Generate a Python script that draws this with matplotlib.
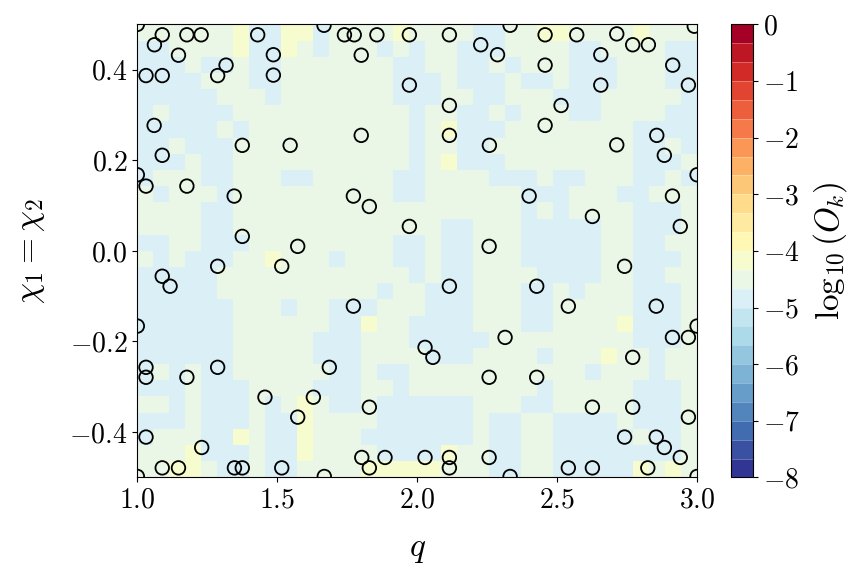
import numpy as np
import matplotlib
matplotlib.use('Agg')
import matplotlib.pyplot as plt
from matplotlib.colors import BoundaryNorm

# LaTeX-like look with the bundled Computer Modern fonts
plt.rcParams['font.family'] = 'serif'
plt.rcParams['font.serif'] = ['cmr10']
plt.rcParams['mathtext.fontset'] = 'cm'
plt.rcParams['axes.formatter.use_mathtext'] = True

# training points (q, chi)
q_pts = [1.0, 1.089, 1.177, 1.228, 1.430, 1.061, 1.147, 1.486, 1.667, 1.740, 1.775, 1.856, 1.972,
         1.800, 1.031, 1.089, 1.287, 1.317, 1.486, 1.972, 1.060, 1.800, 1.375, 1.546, 1.089, 1.0,
         2.115, 2.332, 2.457, 2.570, 2.713, 2.770, 2.826, 2.227, 2.287, 2.656, 2.457, 2.913, 2.99,
         2.656, 2.969, 2.115, 2.514, 2.457, 2.115, 2.258, 2.713, 2.856, 2.883, 3.0,
         1.031, 1.177, 1.346, 1.772, 1.829, 1.972, 1.375, 1.573, 1.287, 1.516, 1.089, 1.117, 1.772, 1.0,
         2.400, 2.912, 2.626, 2.940, 2.257, 2.741, 2.115, 2.427, 2.540, 2.854, 3.0,
         1.031, 1.031, 1.177, 1.287, 1.686, 1.456, 1.629, 1.573, 1.829, 2.028, 2.056, 1.031, 1.230,
         1.089, 1.147, 1.347, 1.375, 1.516, 1.668, 1.0, 1.802, 1.829, 1.885, 2.028,
         2.314, 2.770, 2.912, 2.969, 2.257, 2.427, 2.626, 2.770, 2.969, 2.741, 2.854, 2.883, 2.940,
         2.115, 2.115, 2.257, 2.332, 2.540, 2.626, 2.824, 3.0]
chi_pts = [0.5, 0.477, 0.477, 0.477, 0.477, 0.455, 0.432, 0.433, 0.498, 0.477, 0.477, 0.477, 0.477,
           0.432, 0.387, 0.387, 0.387, 0.410, 0.388, 0.366, 0.277, 0.255, 0.233, 0.233, 0.211, 0.168,
           0.477, 0.498, 0.477, 0.477, 0.479, 0.455, 0.455, 0.455, 0.433, 0.433, 0.410, 0.410, 0.496,
           0.366, 0.366, 0.321, 0.321, 0.277, 0.255, 0.233, 0.234, 0.255, 0.211, 0.168,
           0.143, 0.143, 0.121, 0.121, 0.098, 0.054, 0.032, 0.010, -0.034, -0.034, -0.056, -0.078, -0.122, -0.166,
           0.121, 0.121, 0.076, 0.054, 0.010, -0.034, -0.078, -0.078, -0.122, -0.122, -0.166,
           -0.257, -0.279, -0.279, -0.257, -0.257, -0.323, -0.323, -0.367, -0.345, -0.213, -0.235, -0.411, -0.434,
           -0.479, -0.479, -0.479, -0.479, -0.479, -0.498, -0.498, -0.456, -0.479, -0.456, -0.456,
           -0.191, -0.235, -0.191, -0.191, -0.279, -0.279, -0.345, -0.345, -0.367, -0.411, -0.411, -0.434, -0.456,
           -0.456, -0.479, -0.456, -0.498, -0.479, -0.479, -0.479, -0.498]

# log10(O_k) map, coarse read: top row = chi 0.5, left col = q 1.0
# g ~ -4.5, b ~ -4.8, y ~ -4.2
ok_rows = [
    "ggggggybbyybggggyggggbbggyyggggyggg",
    "bbggggybbygbgggbgbggbbbggggbbggggbb",
    "bbbgbbgbbgggggggbbggbbgbgggbbbgggbb",
    "bbbbgggbbgggggggbbbgbbbgbbgbbbgggbb",
    "bbbbbgggbgggggggbbbggbbgggbbbgggggb",
    "bgbbbbgggggggggggbggbbgbgggbbggggbb",
    "bbbbbgbggggggggggbgybbbggggggggbbbb",
    "bbgbbbgggggggggggbggbbgggggggggbbgb",
    "bbbgbbgggggggggggbgybbbggggggggbbbg",
    "bgggbbgggbbgggggbbggggbbbgbbgggbbgb",
    "gbgggbggggggggggbbggggggbbbgggbbggg",
    "ggggbbggggggggggggggggggbgbggggbbbg",
    "ggggbbgggggggggggggbbgggbbbbbggbbbg",
    "bbggbbbgggggggggbbgbbgggbbbbbggbbgg",
    "gbgbbbggygggbgggbbgbbgggbbbbbggbbbg",
    "bbbbbggggggggggggbgbbggggbbbbggbbgg",
    "bbbbbggggggggggbggbbbgggbbgbgggbbbg",
    "bbbbbbgggbggbbbgggbbbgggbbgggggbbbg",
    "bbbbbbggggggbbyggbbbbgggbbggggybbbg",
    "bbbbbbgggggbbbgggbbbbbgggggggggbbbg",
    "bbbbbbgggggbbbggggbbbggggbgggyggbgg",
    "bgbgbbggggggbbgbbgggggggggggbgggbgg",
    "bbbgbbbggggbbbggbggggggggbgggggbbbg",
    "ggbgbbbgbgygbbgbbbbbbgggbbgggggbbbg",
    "bbbgbbbgbbyggggbbbbbbgbbggbbbbgbbbg",
    "bgggbbygbbygggbbbbbbbgbbggbbbbbgbbg",
    "gggybbbgbbyggggbbbbyggbbggbbbbbbbbg",
    "ggyygbbgbbggggyyyyygggbbggbbbbbygyg",
]
level_of = {'g': -4.5, 'b': -4.8, 'y': -4.2}

ncol = 35
ok_map = np.array([[level_of[c] for c in row.ljust(ncol, 'g')[:ncol]] for row in ok_rows])
ok_map = ok_map[::-1]  # bottom row first for pcolormesh
q_edges = np.linspace(1.0, 3.0, ncol + 1)
chi_edges = np.linspace(-0.5, 0.5, len(ok_rows) + 1)

levels = np.linspace(-8, 0, 25)
cmap = plt.get_cmap('RdYlBu_r')
norm = BoundaryNorm(levels, cmap.N)

fig = plt.figure(figsize=(8.67, 5.79), dpi=100)
ax = fig.add_axes([0.1584, 0.1755, 0.6456, 0.7824])
cax = fig.add_axes([0.8428, 0.1755, 0.026, 0.7824])

mesh = ax.pcolormesh(q_edges, chi_edges, ok_map, cmap=cmap, norm=norm)
ax.scatter(q_pts, chi_pts, s=95, facecolors='none', edgecolors='k', linewidths=1.3)

ax.set_xlim(1.0, 3.0)
ax.set_ylim(-0.5, 0.5)
ax.set_xticks([1.0, 1.5, 2.0, 2.5, 3.0])
ax.set_yticks([-0.4, -0.2, 0.0, 0.2, 0.4])
ax.tick_params(labelsize=20)
ax.set_xlabel(r'$q$', fontsize=24, labelpad=16)
ax.set_ylabel(r'$\chi_1 = \chi_2$', fontsize=24, labelpad=16)

cbar = fig.colorbar(mesh, cax=cax, ticks=np.arange(-8, 1))
cbar.ax.minorticks_off()
cbar.ax.tick_params(labelsize=20)
cbar.set_label(r'$\log_{10}(O_k)$', fontsize=24, labelpad=8)
# faint seams between the colour bands, as in a contourf colorbar
cbar.ax.hlines(levels[1:-1], 0, 1, colors='w', linewidth=0.4, alpha=0.5,
               transform=cbar.ax.get_yaxis_transform())

fig.savefig('out.png', dpi=100)
